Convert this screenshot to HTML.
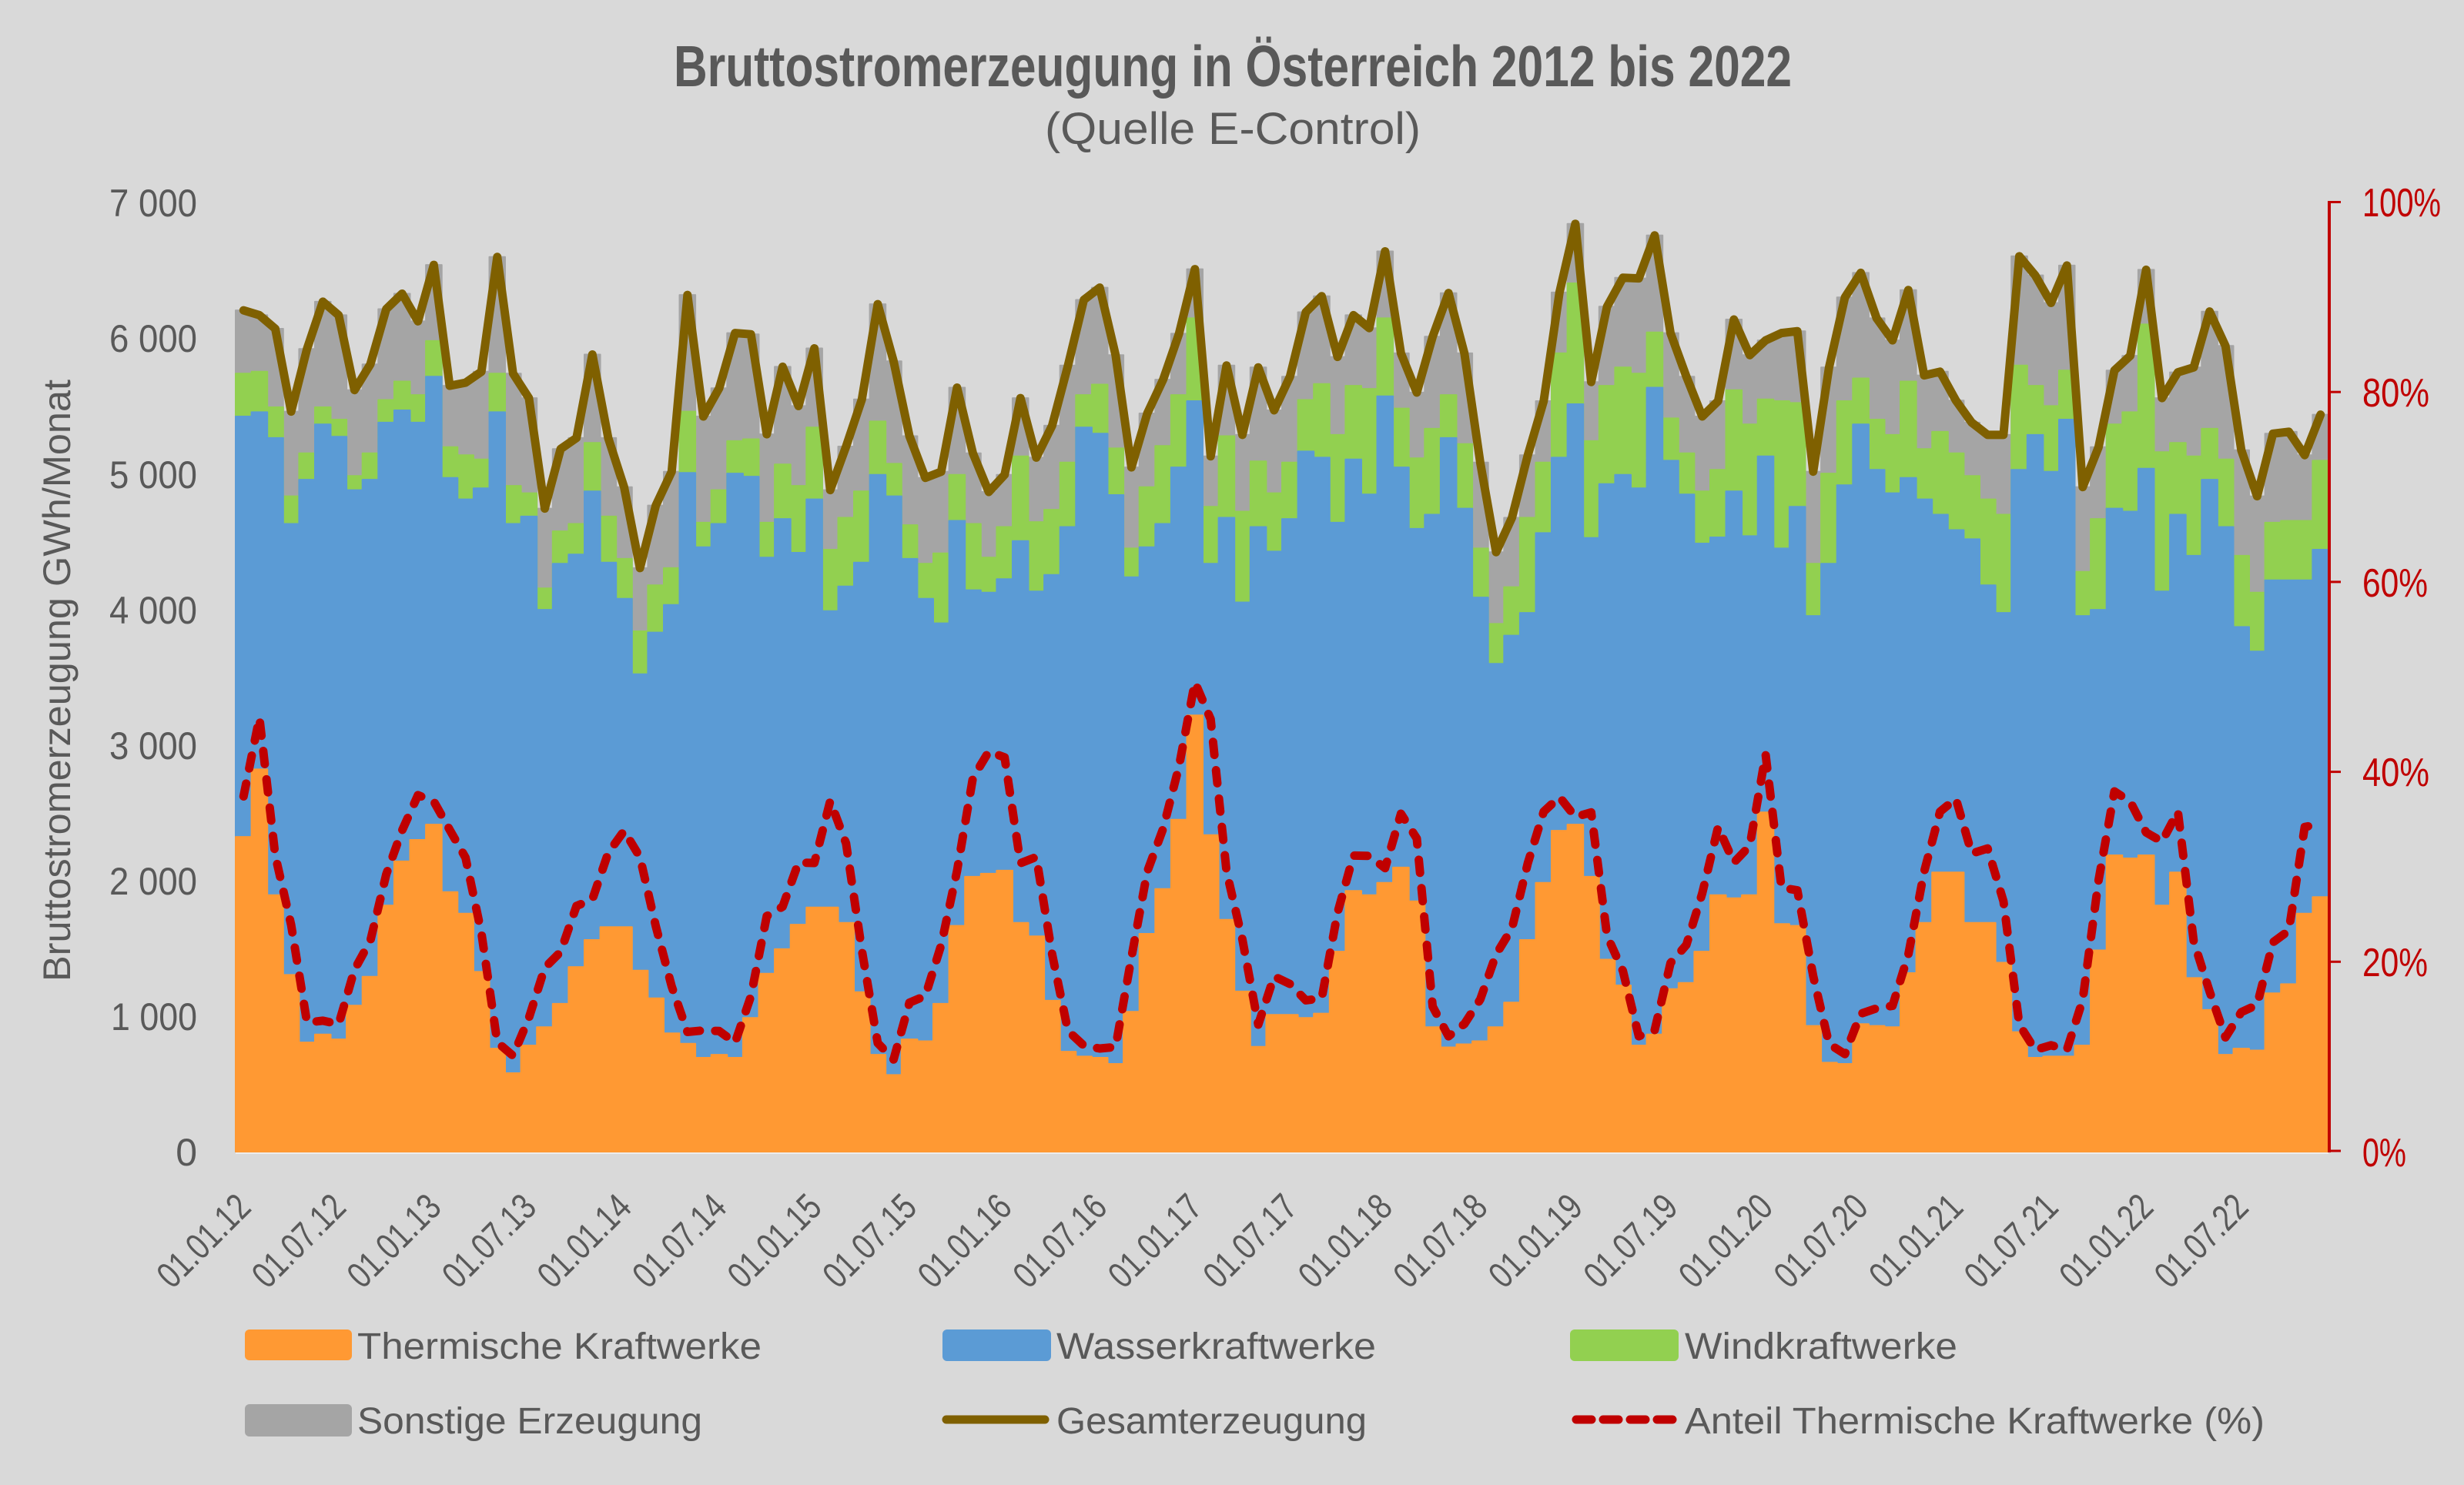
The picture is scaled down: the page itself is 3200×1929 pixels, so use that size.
<!DOCTYPE html>
<html><head><meta charset="utf-8">
<style>
html,body{margin:0;padding:0;background:#D9D9D9;}
svg{display:block;}
text{font-family:"Liberation Sans Narrow","Liberation Sans",sans-serif;}
</style></head><body>
<svg width="3200" height="1929" viewBox="0 0 3200 1929" xmlns="http://www.w3.org/2000/svg">
<rect width="3200" height="1929" fill="#D9D9D9"/>
<g id="areas"></g>
<line x1="306" y1="1498" x2="3024" y2="1498" stroke="#EDEDED" stroke-width="2"/>
<g stroke="#C00000" stroke-width="3">
<line x1="3025" y1="261" x2="3025" y2="1497" stroke-width="4"/>
<line x1="3025" y1="262.5" x2="3040" y2="262.5"/>
<line x1="3025" y1="509.2" x2="3040" y2="509.2"/>
<line x1="3025" y1="755.9" x2="3040" y2="755.9"/>
<line x1="3025" y1="1002.6" x2="3040" y2="1002.6"/>
<line x1="3025" y1="1249.3" x2="3040" y2="1249.3"/>
<line x1="3025" y1="1495" x2="3040" y2="1495"/>
</g>
<g id="lines"></g>

<text x="1601" y="112" text-anchor="middle" font-size="75" font-weight="bold" fill="#595959" textLength="1452" lengthAdjust="spacingAndGlyphs">Bruttostromerzeugung in Österreich 2012 bis 2022</text>
<text x="1601" y="187" text-anchor="middle" font-size="58" fill="#595959" textLength="488" lengthAdjust="spacingAndGlyphs">(Quelle E-Control)</text>

<g font-size="50" fill="#595959" text-anchor="end">
<text x="256" y="1514">0</text>
<text x="256" y="1338" textLength="112" lengthAdjust="spacingAndGlyphs">1 000</text>
<text x="256" y="1162" textLength="114" lengthAdjust="spacingAndGlyphs">2 000</text>
<text x="256" y="986" textLength="114" lengthAdjust="spacingAndGlyphs">3 000</text>
<text x="256" y="810" textLength="114" lengthAdjust="spacingAndGlyphs">4 000</text>
<text x="256" y="634" textLength="114" lengthAdjust="spacingAndGlyphs">5 000</text>
<text x="256" y="457" textLength="114" lengthAdjust="spacingAndGlyphs">6 000</text>
<text x="256" y="281" textLength="114" lengthAdjust="spacingAndGlyphs">7 000</text>
</g>

<g font-size="52" fill="#C00000">
<text x="3068" y="281" textLength="102" lengthAdjust="spacingAndGlyphs">100%</text>
<text x="3068" y="528" textLength="87" lengthAdjust="spacingAndGlyphs">80%</text>
<text x="3068" y="775" textLength="85" lengthAdjust="spacingAndGlyphs">60%</text>
<text x="3068" y="1021" textLength="87" lengthAdjust="spacingAndGlyphs">40%</text>
<text x="3068" y="1268" textLength="85" lengthAdjust="spacingAndGlyphs">20%</text>
<text x="3068" y="1515" textLength="57" lengthAdjust="spacingAndGlyphs">0%</text>
</g>

<text transform="translate(91,884) rotate(-90)" text-anchor="middle" font-size="50" fill="#595959" textLength="782" lengthAdjust="spacingAndGlyphs">Bruttostromerzeugung GWh/Monat</text>

<g font-size="48" fill="#595959" text-anchor="end">
<text transform="translate(316.3,1559) rotate(-45)" dy="17" textLength="148" lengthAdjust="spacingAndGlyphs">01.01.12</text>
<text transform="translate(439.8,1559) rotate(-45)" dy="17" textLength="148" lengthAdjust="spacingAndGlyphs">01.07.12</text>
<text transform="translate(563.4,1559) rotate(-45)" dy="17" textLength="148" lengthAdjust="spacingAndGlyphs">01.01.13</text>
<text transform="translate(686.9,1559) rotate(-45)" dy="17" textLength="148" lengthAdjust="spacingAndGlyphs">01.07.13</text>
<text transform="translate(810.5,1559) rotate(-45)" dy="17" textLength="148" lengthAdjust="spacingAndGlyphs">01.01.14</text>
<text transform="translate(934.0,1559) rotate(-45)" dy="17" textLength="148" lengthAdjust="spacingAndGlyphs">01.07.14</text>
<text transform="translate(1057.5,1559) rotate(-45)" dy="17" textLength="148" lengthAdjust="spacingAndGlyphs">01.01.15</text>
<text transform="translate(1181.1,1559) rotate(-45)" dy="17" textLength="148" lengthAdjust="spacingAndGlyphs">01.07.15</text>
<text transform="translate(1304.6,1559) rotate(-45)" dy="17" textLength="148" lengthAdjust="spacingAndGlyphs">01.01.16</text>
<text transform="translate(1428.2,1559) rotate(-45)" dy="17" textLength="148" lengthAdjust="spacingAndGlyphs">01.07.16</text>
<text transform="translate(1551.7,1559) rotate(-45)" dy="17" textLength="148" lengthAdjust="spacingAndGlyphs">01.01.17</text>
<text transform="translate(1675.2,1559) rotate(-45)" dy="17" textLength="148" lengthAdjust="spacingAndGlyphs">01.07.17</text>
<text transform="translate(1798.8,1559) rotate(-45)" dy="17" textLength="148" lengthAdjust="spacingAndGlyphs">01.01.18</text>
<text transform="translate(1922.3,1559) rotate(-45)" dy="17" textLength="148" lengthAdjust="spacingAndGlyphs">01.07.18</text>
<text transform="translate(2045.9,1559) rotate(-45)" dy="17" textLength="148" lengthAdjust="spacingAndGlyphs">01.01.19</text>
<text transform="translate(2169.4,1559) rotate(-45)" dy="17" textLength="148" lengthAdjust="spacingAndGlyphs">01.07.19</text>
<text transform="translate(2292.9,1559) rotate(-45)" dy="17" textLength="148" lengthAdjust="spacingAndGlyphs">01.01.20</text>
<text transform="translate(2416.5,1559) rotate(-45)" dy="17" textLength="148" lengthAdjust="spacingAndGlyphs">01.07.20</text>
<text transform="translate(2540.0,1559) rotate(-45)" dy="17" textLength="148" lengthAdjust="spacingAndGlyphs">01.01.21</text>
<text transform="translate(2663.6,1559) rotate(-45)" dy="17" textLength="148" lengthAdjust="spacingAndGlyphs">01.07.21</text>
<text transform="translate(2787.1,1559) rotate(-45)" dy="17" textLength="148" lengthAdjust="spacingAndGlyphs">01.01.22</text>
<text transform="translate(2910.6,1559) rotate(-45)" dy="17" textLength="148" lengthAdjust="spacingAndGlyphs">01.07.22</text>
</g>

<!-- Legend -->
<rect x="318" y="1727" width="139" height="40" rx="6" fill="#FF9933"/>
<rect x="1224" y="1727" width="141" height="41" rx="6" fill="#5B9BD5"/>
<rect x="2039" y="1727" width="141" height="41" rx="6" fill="#92D050"/>
<rect x="318" y="1824" width="139" height="42" rx="6" fill="#A5A5A5"/>
<line x1="1229" y1="1844" x2="1357" y2="1844" stroke="#7F6000" stroke-width="11" stroke-linecap="round"/>
<line x1="2047" y1="1844" x2="2172" y2="1844" stroke="#C00000" stroke-width="11" stroke-linecap="round" stroke-dasharray="20 15"/>
<g font-size="48" fill="#595959">
<text x="464" y="1765" textLength="525" lengthAdjust="spacingAndGlyphs">Thermische Kraftwerke</text>
<text x="1372" y="1765" textLength="415" lengthAdjust="spacingAndGlyphs">Wasserkraftwerke</text>
<text x="2188" y="1765" textLength="354" lengthAdjust="spacingAndGlyphs">Windkraftwerke</text>
<text x="464" y="1862" textLength="448" lengthAdjust="spacingAndGlyphs">Sonstige Erzeugung</text>
<text x="1372" y="1862" textLength="403" lengthAdjust="spacingAndGlyphs">Gesamterzeugung</text>
<text x="2188" y="1862" textLength="753" lengthAdjust="spacingAndGlyphs">Anteil Thermische Kraftwerke (%)</text>
</g>
</svg>
<script>
(function(){
var A=[1050,940,1145,1275,1385,1372,1380,1325,1278,1162,1090,1055,1030,1140,1175,1270,1395,1435,1390,1360,1322,1262,
1218,1197,1197,1268,1313,1370,1387,1410,1405,1410,1345,1273,1233,1193,1165,1165,1190,1303,1405,1438,1380,1383,
1322,1195,1115,1110,1105,1190,1212,1317,1400,1408,1410,1420,1335,1208,1135,1022,852,1047,1185,1302,1392,1340,
1340,1345,1338,1237,1138,1145,1125,1100,1155,1360,1393,1388,1383,1360,1320,1218,1125,1040,1030,1115,1250,1292,
1390,1372,1298,1288,1237,1145,1150,1145,1010,1192,1195,1358,1418,1420,1355,1358,1360,1272,1190,1108,1108,1190,
1190,1255,1368,1410,1408,1408,1390,1235,1080,1085,1080,1162,1108,1280,1332,1405,1395,1398,1305,1290,1175,1148];
var B=[365,358,400,540,468,378,398,485,468,375,355,375,300,465,500,482,358,540,528,680,605,590,
487,603,662,785,717,672,457,578,540,458,463,595,532,587,500,682,642,603,460,495,597,662,
702,535,648,652,630,568,650,623,545,383,393,493,627,578,540,448,340,605,530,668,545,585,
532,422,432,538,435,492,332,448,548,525,400,515,660,768,722,685,555,432,345,563,475,460,
482,318,437,492,572,562,487,560,430,580,512,690,605,477,378,452,490,465,500,525,550,565,
640,685,452,395,455,370,690,680,515,520,450,650,525,592,468,545,708,748,632,632,632,582];
var C=[295,292,350,495,425,350,370,462,425,338,308,330,242,415,428,435,295,478,490,645,552,540,
408,528,597,715,640,612,357,538,485,405,402,538,443,478,383,582,530,487,373,442,542,605,
588,460,540,595,545,430,537,517,440,330,313,417,580,480,413,330,205,512,397,520,438,490,
440,338,312,395,315,320,205,352,433,385,330,410,580,703,643,530,440,262,148,405,315,285,
295,228,368,425,487,452,322,378,337,340,343,605,458,340,303,370,395,308,418,390,425,462,
500,525,282,315,348,290,618,532,378,358,215,423,408,430,385,435,592,652,538,535,535,437];
var D=[192,200,222,357,255,178,200,322,280,190,165,210,118,315,310,292,105,295,335,515,418,400,
264,400,480,612,510,455,167,365,319,229,231,394,284,348,254,485,414,337,182,275,397,465,
455,318,425,488,460,335,432,380,282,175,155,265,448,360,305,230,125,430,282,395,285,355,
300,195,169,268,200,221,96,262,326,235,164,262,440,586,530,428,340,163,51,309,186,139,
140,70,229,300,365,340,207,265,241,229,226,455,285,171,131,205,241,159,298,292,339,375,
395,395,104,135,180,119,480,415,290,266,126,335,293,285,194,250,420,495,393,390,428,362];
var N=132,X0=306,W=(3024-306)/132,BASE=1496;
function f(v){return 250+v/1.2544;}
function step(arr,col){
  var p='M'+X0+','+BASE;
  for(var i=0;i<N;i++){var y=f(arr[i]).toFixed(1);
    p+='L'+(X0+W*i).toFixed(1)+','+y+'L'+(X0+W*(i+1)).toFixed(1)+','+y;}
  p+='L'+(X0+W*N).toFixed(1)+','+BASE+'Z';
  return '<path d="'+p+'" fill="'+col+'" stroke="'+col+'" stroke-width="2" stroke-linejoin="round"/>';
}
var ns='http://www.w3.org/2000/svg';
var areas=document.getElementById('areas');
areas.innerHTML=step(D,'#A5A5A5')+step(C,'#92D050')+step(B,'#5B9BD5')+step(A,'#FF9933');
var pt=[],pp=[];
for(var i=0;i<N;i++){
  var cx=X0+W*(i+0.5), yA=f(A[i]), yD=f(D[i]);
  pt.push(cx.toFixed(1)+','+yD.toFixed(1));
  var pct=(BASE-yA)/(BASE-yD);
  pp.push(cx.toFixed(1)+','+(1496-1233.5*pct).toFixed(1));
}
document.getElementById('lines').innerHTML=
 '<polyline points="'+pt.join(' ')+'" fill="none" stroke="#7F6000" stroke-width="11" stroke-linejoin="round" stroke-linecap="round"/>'+
 '<polyline points="'+pp.join(' ')+'" fill="none" stroke="#C00000" stroke-width="11" stroke-linejoin="round" stroke-linecap="round" stroke-dasharray="17 20"/>';
})();
</script>
</body></html>
